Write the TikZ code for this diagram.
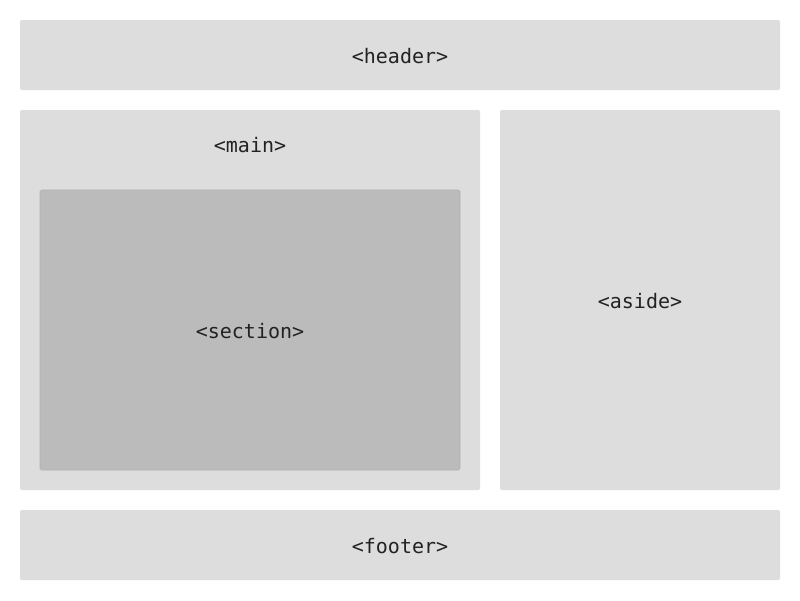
\documentclass[tikz,border=0pt]{standalone}
\usepackage{fontspec}
\setmonofont{DejaVu Sans Mono}
\definecolor{boxgray}{HTML}{DDDDDD}
\definecolor{secgray}{HTML}{BBBBBB}
\definecolor{txt}{HTML}{222222}
\begin{document}
\begin{tikzpicture}[x=1pt,y=-1pt,
  area/.style={fill=boxgray,draw=none,rounded corners=1.5pt},
  lbl/.style={font=\ttfamily\fontsize{20}{24}\selectfont,text=txt,inner sep=0}]
\fill[white] (0,0) rectangle (800,600);
\useasboundingbox (0,0) rectangle (800,600);
\path[area] (20,20) rectangle (780,90);
\path[area] (20,110) rectangle (480,490);
\path[area] (500,110) rectangle (780,490);
\path[area] (20,510) rectangle (780,580);
\path[fill=secgray,draw=black!30,line width=0.6pt,rounded corners=1.5pt] (40,190) rectangle (460,470);
\node[lbl] (header) at (400,56) {<header>};
\node[lbl] (main) at (250,145) {<main>};
\node[lbl] (section) at (250,331) {<section>};
\node[lbl] (aside) at (640,301) {<aside>};
\node[lbl] (footer) at (400,546) {<footer>};
\end{tikzpicture}
\end{document}
